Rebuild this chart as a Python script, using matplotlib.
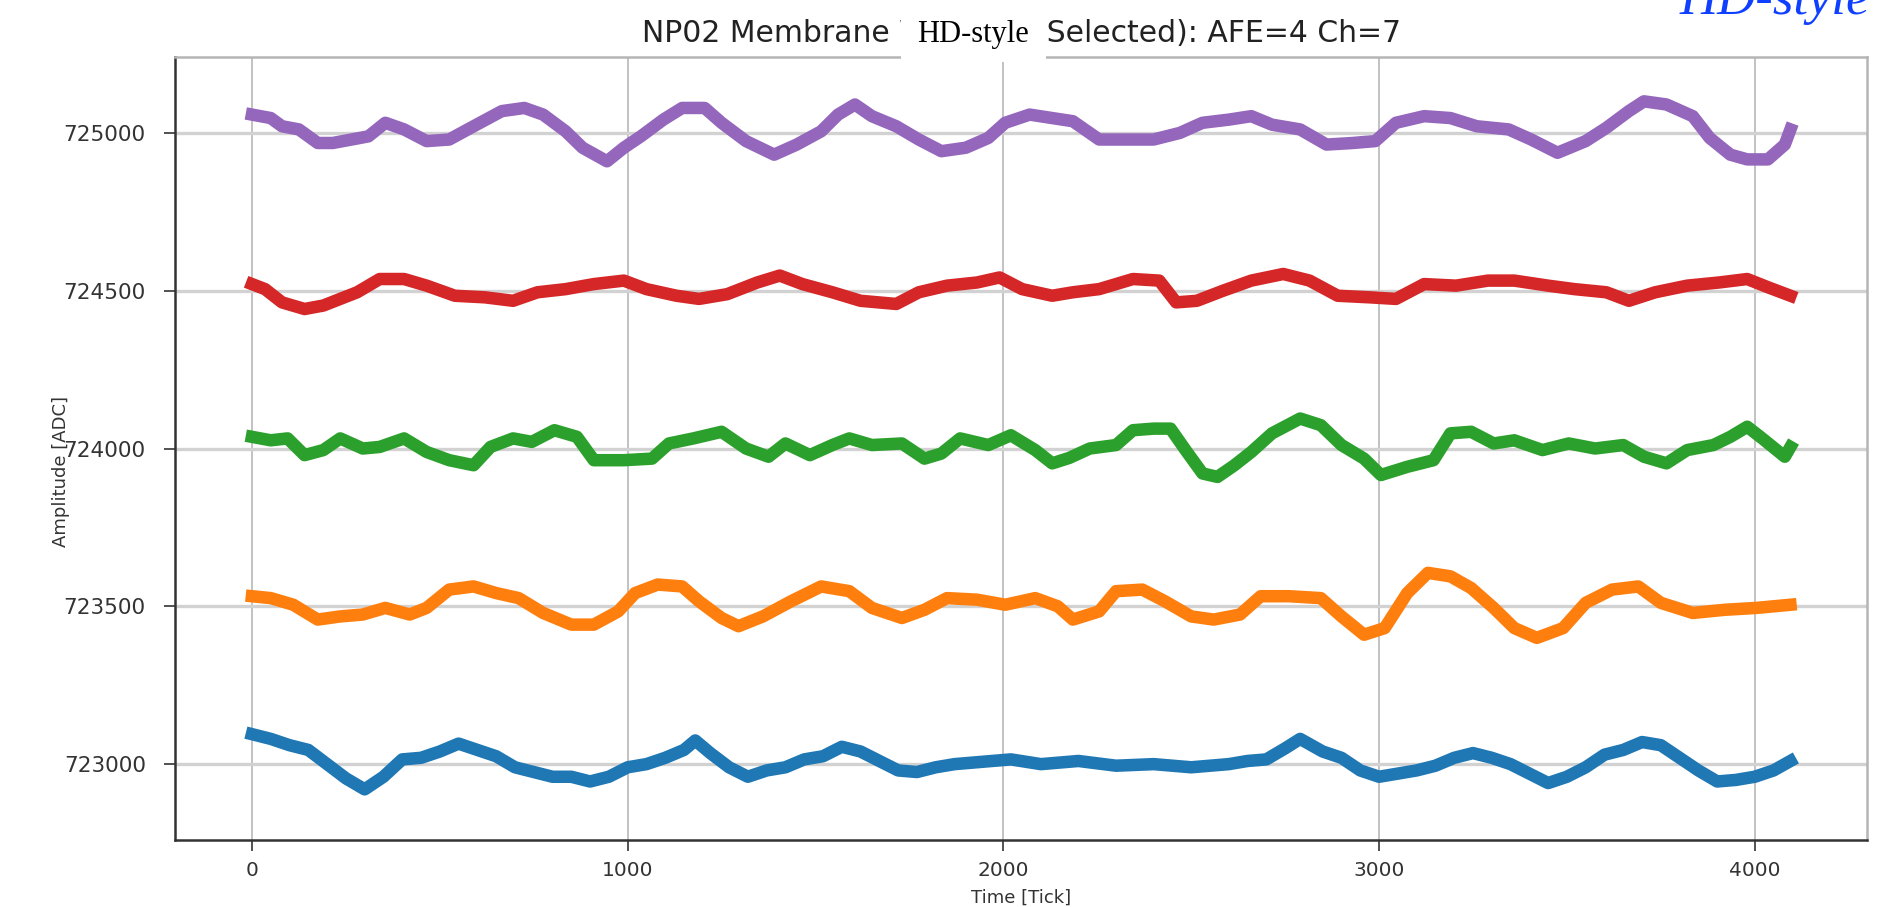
import matplotlib
matplotlib.use('Agg')
import matplotlib.pyplot as plt
from matplotlib.patches import Rectangle

# baselines of the 5 selected channels (ADC)
baselines = [723000, 723500, 724000, 724500, 725000]
colors = ['#1f77b4', '#ff7f0e', '#2ca02c', '#d62728', '#9467bd']

# deviations from baseline (tick, ADC)
blue_t = [0, 50, 100, 150, 200, 250, 300, 350, 400, 450, 500, 550, 600, 650, 700, 750, 800, 850, 900, 950,
          1000, 1050, 1100, 1150, 1180, 1220, 1270, 1320, 1370, 1420, 1470, 1520, 1570, 1620, 1670, 1720,
          1770, 1820, 1870, 1920, 1970, 2020, 2100, 2200, 2300, 2400, 2500, 2600, 2650, 2700, 2750, 2790,
          2850, 2900, 2950, 3000, 3050, 3100, 3150, 3200, 3250, 3300, 3350, 3400, 3450, 3500, 3550, 3600,
          3650, 3700, 3750, 3800, 3850, 3900, 3950, 4000, 4050, 4095]
blue_v = [95, 80, 60, 45, 0, -45, -80, -40, 15, 20, 40, 65, 45, 25, -10, -25, -40, -40, -55, -40,
          -10, 0, 20, 45, 75, 35, -10, -40, -20, -10, 15, 25, 55, 40, 10, -20,
          -25, -10, 0, 5, 10, 15, 0, 10, -5, 0, -10, 0, 10, 15, 50, 80,
          40, 20, -20, -40, -30, -20, -5, 20, 35, 20, 0, -30, -60, -40, -10, 30,
          45, 70, 60, 20, -20, -55, -50, -40, -20, 10]

orange_t = [0, 50, 110, 175, 235, 295, 355, 420, 465, 525, 590, 650, 710, 775, 850, 910, 975, 1020, 1080,
            1145, 1190, 1250, 1295, 1360, 1435, 1515, 1590, 1650, 1730, 1790, 1850, 1930, 2005, 2085, 2145,
            2185, 2255, 2300, 2370, 2430, 2500, 2560, 2630, 2685, 2760, 2845, 2900, 2960, 3015, 3075, 3130,
            3190, 3245, 3305, 3360, 3420, 3490, 3550, 3620, 3690, 3750, 3835, 3920, 4005, 4095]
orange_v = [32, 26, 5, -42, -32, -26, -5, -26, -5, 53, 63, 42, 26, -21, -58, -58, -16, 42, 69,
            63, 16, -37, -63, -32, 16, 63, 48, -5, -37, -11, 26, 21, 5, 26, 0,
            -42, -16, 48, 53, 16, -32, -42, -26, 32, 32, 26, -32, -90, -69, 42, 106,
            95, 58, -5, -69, -100, -69, 11, 53, 63, 11, -21, -11, -5, 5]

green_t = [0, 50, 95, 140, 190, 235, 295, 340, 405, 465, 525, 590, 635, 695, 745, 805, 865, 910, 990,
           1065, 1110, 1175, 1250, 1315, 1375, 1420, 1485, 1545, 1590, 1650, 1730, 1790, 1835, 1885, 1960,
           2020, 2085, 2130, 2175, 2230, 2300, 2345, 2400, 2445, 2485, 2530, 2570, 2615, 2660, 2715, 2790,
           2845, 2900, 2960, 3005, 3075, 3145, 3190, 3245, 3305, 3360, 3435, 3505, 3575, 3650, 3705, 3765,
           3820, 3890, 3935, 3980, 4020, 4080, 4095]
green_v = [37, 26, 32, -21, -5, 32, 0, 5, 32, -11, -37, -53, 5, 32, 21, 58, 37, -37, -37,
           -32, 16, 32, 53, 0, -26, 16, -21, 11, 32, 11, 16, -32, -16, 32, 11,
           42, -5, -47, -30, 0, 11, 58, 63, 63, -5, -79, -90, -53, -11, 48, 95,
           74, 11, -32, -84, -58, -37, 48, 53, 16, 26, -5, 16, 0, 11, -26, -47,
           -5, 11, 37, 69, 32, -26, 5]

red_t = [0, 35, 80, 140, 190, 235, 280, 340, 405, 465, 540, 620, 695, 760, 835, 910, 990, 1050, 1130,
         1190, 1265, 1345, 1405, 1465, 1545, 1620, 1715, 1775, 1850, 1930, 1990, 2050, 2130, 2185, 2255,
         2345, 2415, 2460, 2515, 2585, 2660, 2745, 2815, 2890, 2975, 3045, 3120, 3205, 3290, 3360, 3450,
         3520, 3605, 3665, 3735, 3820, 3905, 3980, 4035, 4095]
red_v = [21, 5, -37, -58, -47, -26, -5, 37, 37, 16, -16, -21, -32, -5, 5, 21, 32, 5, -16,
         -26, -11, 26, 48, 21, -5, -32, -42, -5, 16, 26, 42, 5, -16, -5, 5,
         37, 32, -37, -32, 0, 32, 53, 32, -16, -21, -26, 21, 16, 32, 32, 16,
         5, -5, -32, -5, 16, 26, 37, 11, -16]

purple_t = [0, 50, 80, 125, 175, 215, 265, 310, 355, 405, 465, 525, 590, 665, 725, 775, 835, 880, 945,
            990, 1035, 1095, 1145, 1205, 1250, 1315, 1390, 1450, 1515, 1560, 1605, 1650, 1715, 1775, 1835,
            1900, 1960, 2005, 2070, 2130, 2185, 2255, 2330, 2400, 2470, 2530, 2600, 2660, 2715, 2790, 2860,
            2930, 2990, 3045, 3120, 3190, 3260, 3345, 3405, 3475, 3550, 3605, 3665, 3705, 3765, 3835, 3880,
            3935, 3980, 4035, 4080, 4095]
purple_v = [58, 47, 21, 11, -32, -32, -21, -11, 32, 11, -26, -21, 21, 69, 79, 58, 5, -47, -90,
            -47, -11, 42, 79, 79, 32, -26, -69, -37, 5, 58, 90, 53, 21, -21, -58,
            -47, -16, 32, 58, 47, 37, -21, -21, -21, 0, 32, 42, 53, 26, 11, -37,
            -32, -26, 32, 53, 47, 21, 11, -21, -63, -26, 16, 69, 100, 90, 53, -16,
            -69, -84, -84, -37, 11]

traces = [(blue_t, blue_v), (orange_t, orange_v), (green_t, green_v), (red_t, red_v), (purple_t, purple_v)]

title = 'NP02 Membrane Waves (5 Selected): AFE=4 Ch=7'

fig = plt.figure(figsize=(18.89, 9.07), dpi=100)
ax = fig.add_axes([0.0926, 0.074, 0.896, 0.863])

for (t, v), base, c in zip(traces, baselines, colors):
    ax.plot(t, [base + d for d in v], color=c, lw=9, solid_joinstyle='round', zorder=3)

ax.set_xlim(-205, 4300)
ax.set_ylim(722760, 725240)
ax.set_xticks([0, 1000, 2000, 3000, 4000])
ax.set_yticks(baselines)
ax.yaxis.grid(True, color='#d2d2d2', lw=2.4)
ax.xaxis.grid(True, color='#bdbdbd', lw=1.3)
ax.set_axisbelow(True)
ax.tick_params(colors='#333333', length=8, width=1.2)
ax.tick_params(axis='y', labelsize=15.5, pad=13)
ax.tick_params(axis='x', labelsize=14.5, pad=7)

for s in ['left', 'bottom']:
    ax.spines[s].set_color('#333333')
    ax.spines[s].set_linewidth(1.8)
for s in ['top', 'right']:
    ax.spines[s].set_color('#b5b5b5')
    ax.spines[s].set_linewidth(1.8)

ax.set_xlabel('Time [Tick]', fontsize=13, color='#333333')
ax.set_ylabel('Amplitude [ADC]', fontsize=13, color='#333333')
ax.xaxis.set_label_coords(0.5, -0.062)
ax.yaxis.set_label_coords(-0.062, 0.47)
ax.set_title(title, fontsize=21.5, color='#222222', pad=11)

# white label box sitting on top of the title
fig.patches.append(Rectangle((901 / 1889, 1 - 62 / 907), 145 / 1889, 54 / 907, transform=fig.transFigure,
                             facecolor='white', edgecolor='none', zorder=5))
fig.text(973 / 1889, 1 - 42 / 907, 'HD-style', fontsize=22, family='Liberation Serif',
         ha='center', va='baseline', zorder=6)
fig.text(1680 / 1889, 1 - 14 / 907, 'HD-style', fontsize=38, family='Liberation Serif', style='italic',
         color='#1040ff', ha='left', va='baseline', zorder=6)

fig.savefig('out.png', dpi=100)
